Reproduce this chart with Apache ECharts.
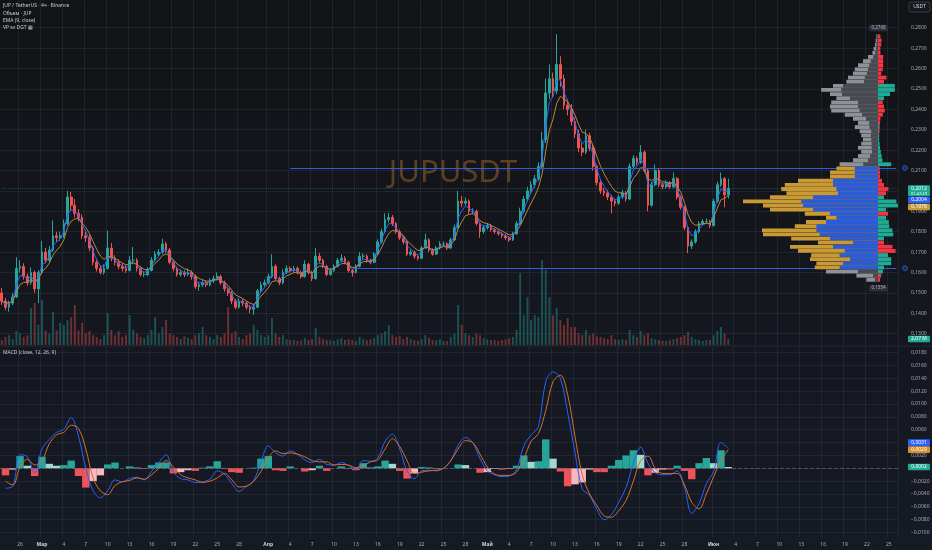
<!DOCTYPE html>
<html><head><meta charset="utf-8">
<script src="https://cdn.jsdelivr.net/npm/echarts@6/dist/echarts.min.js"></script>
<style>html,body{margin:0;padding:0;background:#131417;}#c{width:932px;height:550px;}</style>
</head><body><div id="c"></div>
<script>
// ---------- tick labels (x: days from Feb 26) ----------
const tickDays = [0,3,6,9,12,15,18,21,24,27,30,34,37,40,43,46,49,52,55,58,61,64,67,70,73,76,79,82,85,88,91,95,98,101,104,107,110,113,116,119];
const tickTexts = ['26','Мар','4','7','10','13','16','19','22','25','28','Апр','4','7','10','13','16','19','22','25','28','Май','4','7','10','13','16','19','22','25','28','Июн','4','7','10','13','16','19','22','25'];
const monthTexts = ['Мар','Апр','Май','Июн'];
const priceTicks = [0.13,0.14,0.15,0.16,0.17,0.18,0.19,0.20,0.21,0.22,0.23,0.24,0.25,0.26,0.27,0.28];
const macdTicks = [-0.010,-0.008,-0.006,-0.004,-0.002,0,0.002,0.004,0.006,0.008,0.010,0.012,0.014,0.016,0.018];

// ---------- candles, 12h each: [open, close, low, high] ----------
const candles = [
[0.1500,0.1460,0.1440,0.1525],[0.1460,0.1430,0.1415,0.1475],[0.1430,0.1450,0.1408,0.1462],[0.1450,0.1480,0.1440,0.1500],[0.1480,0.1620,0.1475,0.1675],
[0.1620,0.1630,0.1600,0.1660],[0.1630,0.1580,0.1565,0.1645],[0.1580,0.1550,0.1535,0.1595],[0.1550,0.1600,0.1540,0.1625],[0.1600,0.1520,0.1500,0.1610],
[0.1520,0.1600,0.1450,0.1610],[0.1600,0.1700,0.1590,0.1755],[0.1700,0.1660,0.1645,0.1720],[0.1660,0.1710,0.1650,0.1730],[0.1710,0.1780,0.1700,0.1855],
[0.1780,0.1770,0.1750,0.1800],[0.1770,0.1780,0.1755,0.1800],[0.1780,0.1840,0.1770,0.1860],[0.1840,0.1970,0.1830,0.2000],[0.1970,0.1930,0.1900,0.1995],
[0.1930,0.1890,0.1870,0.1960],[0.1890,0.1870,0.1850,0.1910],[0.1870,0.1780,0.1765,0.1885],[0.1780,0.1770,0.1750,0.1800],[0.1770,0.1720,0.1705,0.1785],
[0.1720,0.1650,0.1635,0.1730],[0.1650,0.1620,0.1605,0.1665],[0.1620,0.1600,0.1590,0.1635],[0.1600,0.1620,0.1590,0.1640],[0.1620,0.1720,0.1615,0.1805],
[0.1720,0.1670,0.1655,0.1745],[0.1670,0.1650,0.1635,0.1685],[0.1650,0.1630,0.1615,0.1665],[0.1630,0.1620,0.1605,0.1645],[0.1620,0.1610,0.1598,0.1635],
[0.1610,0.1660,0.1605,0.1680],[0.1660,0.1660,0.1640,0.1725],[0.1660,0.1620,0.1605,0.1670],[0.1620,0.1590,0.1580,0.1630],[0.1590,0.1590,0.1578,0.1605],
[0.1590,0.1610,0.1582,0.1625],[0.1610,0.1660,0.1605,0.1675],[0.1660,0.1690,0.1650,0.1705],[0.1690,0.1700,0.1680,0.1715],[0.1700,0.1740,0.1690,0.1765],
[0.1740,0.1710,0.1695,0.1750],[0.1710,0.1650,0.1640,0.1720],[0.1650,0.1620,0.1605,0.1660],[0.1620,0.1590,0.1580,0.1630],[0.1590,0.1600,0.1580,0.1615],
[0.1600,0.1590,0.1578,0.1610],[0.1590,0.1600,0.1582,0.1620],[0.1600,0.1580,0.1565,0.1610],[0.1580,0.1530,0.1520,0.1590],[0.1530,0.1540,0.1510,0.1555],
[0.1540,0.1550,0.1530,0.1565],[0.1550,0.1540,0.1528,0.1560],[0.1540,0.1560,0.1532,0.1572],[0.1560,0.1570,0.1548,0.1585],[0.1570,0.1580,0.1560,0.1600],
[0.1580,0.1550,0.1540,0.1590],[0.1550,0.1520,0.1505,0.1560],[0.1520,0.1500,0.1485,0.1530],[0.1500,0.1460,0.1445,0.1510],[0.1460,0.1430,0.1420,0.1470],
[0.1430,0.1460,0.1422,0.1475],[0.1460,0.1450,0.1435,0.1470],[0.1450,0.1430,0.1418,0.1460],[0.1430,0.1420,0.1400,0.1440],[0.1420,0.1430,0.1392,0.1445],
[0.1430,0.1510,0.1425,0.1520],[0.1510,0.1540,0.1500,0.1555],[0.1540,0.1550,0.1530,0.1565],[0.1550,0.1580,0.1542,0.1595],[0.1580,0.1630,0.1572,0.1690],
[0.1630,0.1570,0.1560,0.1640],[0.1570,0.1550,0.1538,0.1580],[0.1550,0.1600,0.1542,0.1615],[0.1600,0.1620,0.1592,0.1635],[0.1620,0.1610,0.1598,0.1630],
[0.1610,0.1620,0.1600,0.1632],[0.1620,0.1600,0.1590,0.1630],[0.1600,0.1580,0.1570,0.1610],[0.1580,0.1640,0.1575,0.1660],[0.1640,0.1600,0.1590,0.1648],
[0.1600,0.1570,0.1558,0.1608],[0.1570,0.1680,0.1565,0.1720],[0.1680,0.1660,0.1645,0.1695],[0.1660,0.1630,0.1620,0.1668],[0.1630,0.1590,0.1582,0.1638],
[0.1590,0.1610,0.1585,0.1620],[0.1610,0.1630,0.1602,0.1640],[0.1630,0.1660,0.1625,0.1672],[0.1660,0.1670,0.1650,0.1690],[0.1670,0.1650,0.1640,0.1680],
[0.1650,0.1610,0.1600,0.1658],[0.1610,0.1600,0.1580,0.1618],[0.1600,0.1630,0.1595,0.1640],[0.1630,0.1680,0.1625,0.1700],[0.1680,0.1680,0.1665,0.1695],
[0.1680,0.1660,0.1648,0.1690],[0.1660,0.1650,0.1640,0.1668],[0.1650,0.1690,0.1645,0.1700],[0.1690,0.1750,0.1685,0.1762],[0.1750,0.1800,0.1742,0.1815],
[0.1800,0.1860,0.1792,0.1890],[0.1860,0.1870,0.1845,0.1892],[0.1870,0.1840,0.1828,0.1882],[0.1840,0.1800,0.1790,0.1848],[0.1800,0.1770,0.1760,0.1810],
[0.1770,0.1750,0.1738,0.1780],[0.1750,0.1690,0.1680,0.1758],[0.1690,0.1700,0.1682,0.1712],[0.1700,0.1680,0.1668,0.1708],[0.1680,0.1670,0.1660,0.1688],
[0.1670,0.1720,0.1665,0.1730],[0.1720,0.1760,0.1715,0.1790],[0.1760,0.1710,0.1700,0.1768],[0.1710,0.1690,0.1682,0.1718],[0.1690,0.1720,0.1685,0.1730],
[0.1720,0.1740,0.1712,0.1752],[0.1740,0.1740,0.1728,0.1752],[0.1740,0.1720,0.1710,0.1748],[0.1720,0.1760,0.1715,0.1770],[0.1760,0.1820,0.1755,0.1835],
[0.1820,0.1950,0.1815,0.2000],[0.1950,0.1940,0.1920,0.1975],[0.1940,0.1950,0.1928,0.1968],[0.1950,0.1900,0.1888,0.1958],[0.1900,0.1900,0.1885,0.1915],
[0.1900,0.1840,0.1830,0.1908],[0.1840,0.1800,0.1770,0.1848],[0.1800,0.1820,0.1790,0.1832],[0.1820,0.1830,0.1810,0.1842],[0.1830,0.1810,0.1800,0.1838],
[0.1810,0.1800,0.1790,0.1818],[0.1800,0.1790,0.1780,0.1808],[0.1790,0.1780,0.1770,0.1798],[0.1780,0.1770,0.1760,0.1790],[0.1770,0.1760,0.1750,0.1778],
[0.1760,0.1790,0.1755,0.1800],[0.1790,0.1840,0.1785,0.1852],[0.1840,0.1900,0.1832,0.1918],[0.1900,0.1960,0.1890,0.1975],[0.1960,0.2000,0.1948,0.2020],
[0.2000,0.2030,0.1985,0.2048],[0.2030,0.2060,0.2015,0.2078],[0.2060,0.2120,0.2048,0.2140],[0.2120,0.2250,0.2110,0.2290],[0.2250,0.2480,0.2235,0.2550],
[0.2480,0.2550,0.2450,0.2620],[0.2550,0.2490,0.2460,0.2580],[0.2490,0.2620,0.2475,0.2768],[0.2620,0.2550,0.2510,0.2660],[0.2550,0.2420,0.2400,0.2570],
[0.2420,0.2400,0.2370,0.2450],[0.2400,0.2340,0.2320,0.2425],[0.2340,0.2280,0.2260,0.2360],[0.2280,0.2210,0.2190,0.2300],[0.2210,0.2190,0.2170,0.2235],
[0.2190,0.2270,0.2180,0.2300],[0.2270,0.2210,0.2195,0.2285],[0.2210,0.2120,0.2100,0.2225],[0.2120,0.2040,0.2025,0.2130],[0.2040,0.2000,0.1985,0.2055],
[0.2000,0.1990,0.1975,0.2015],[0.1990,0.1970,0.1955,0.2005],[0.1970,0.1950,0.1890,0.1980],[0.1950,0.1940,0.1925,0.1962],[0.1940,0.1970,0.1932,0.1982],
[0.1970,0.1990,0.1960,0.2005],[0.1990,0.1960,0.1948,0.1998],[0.1960,0.2120,0.1955,0.2135],[0.2120,0.2160,0.2105,0.2175],[0.2160,0.2140,0.2125,0.2170],
[0.2140,0.2190,0.2132,0.2225],[0.2190,0.2100,0.2090,0.2198],[0.2100,0.1930,0.1900,0.2108],[0.1930,0.2030,0.1922,0.2045],[0.2030,0.2100,0.2022,0.2130],
[0.2100,0.2030,0.2018,0.2108],[0.2030,0.2020,0.2008,0.2042],[0.2020,0.2040,0.2012,0.2052],[0.2040,0.2020,0.2010,0.2048],[0.2020,0.2060,0.2012,0.2090],
[0.2060,0.1970,0.1958,0.2068],[0.1970,0.1920,0.1908,0.1978],[0.1920,0.1820,0.1808,0.1928],[0.1820,0.1730,0.1695,0.1828],[0.1730,0.1750,0.1715,0.1762],
[0.1750,0.1800,0.1742,0.1812],[0.1800,0.1840,0.1792,0.1852],[0.1840,0.1850,0.1830,0.1862],[0.1850,0.1850,0.1838,0.1865],[0.1850,0.1830,0.1818,0.1858],
[0.1830,0.1950,0.1825,0.1962],[0.1950,0.2030,0.1942,0.2045],[0.2030,0.2060,0.2020,0.2090],[0.2060,0.1980,0.1920,0.2068],[0.1980,0.2012,0.1962,0.2060]
];

// ---------- volume per candle (millions JUP) ----------
const volumes = [
1.7,2.8,3.4,2,4.8,4,2.8,3.4,12.8,14.5,
7,15.5,5,4,11.4,5,7.6,7,8.6,9.6,
13.8,5,7.6,4,4.8,3.4,2.8,2,3.4,11,
5.2,3.4,4.8,2.8,3.4,10.3,5.2,4,2.8,2.4,
3.4,5.2,9.6,4,6.2,8.6,4,3.4,2.8,2,
3,2.4,2,3.4,4,6.2,3.4,2.8,2,3.4,
2.8,4,13,4,4.8,2.8,2,3.4,4,7,
5.2,3.4,2.8,3.4,9.3,4,2.8,3.4,2,1.7,
1.7,1.4,1.7,2.4,1.7,2,5.9,2.8,2,1.7,
1.7,1.4,2,2.4,1.7,2,1.7,1.4,2.8,2,
1.7,2,2.4,3.4,4,4.8,6.9,3.4,2.8,3,
2,2.8,2,1.7,1.4,2,3.4,2.4,1.7,1.7,
2,1.4,1.4,2.8,4,13.8,7,4,3.4,2.8,
4,3.4,2.4,2,1.7,1.7,1.4,1.7,2,2.4,
2.8,5.2,24.8,10.3,16.5,8.6,10.3,9.7,29.3,25.9,
16.5,10.3,12.8,8.6,6.9,9.3,6.2,6.2,4,3.4,
5.2,3.4,4,3,2.8,2.4,2,3.4,2,1.7,
2,1.7,5.2,3.4,2.8,4.8,3.4,4,2.4,2,
1.7,1.4,1.4,1.7,2,2.4,2.8,3.4,4.5,2.8,
2,1.7,1.4,1.7,1.7,3.4,4.8,6.2,4,2.07
];

// ---------- MACD (12,26,9), one reading per day ----------
const macdDaily = [
-0.0031,-0.0028,0.0021,0.0018,-0.0007,0.0030,0.0045,0.0056,0.0061,0.0079,
0.0050,0.0000,-0.0035,-0.0046,-0.0035,-0.0018,-0.0021,-0.0016,-0.0014,-0.0018,
-0.0005,0.0009,0.0021,-0.0006,-0.0016,-0.0018,-0.0022,-0.0021,-0.0017,-0.0004,
-0.0009,-0.0024,-0.0036,-0.0028,-0.0019,0.0010,0.0035,0.0024,0.0019,0.0027,
0.0022,0.0013,0.0009,0.0014,0.0006,0.0005,0.0009,0.0004,-0.0002,0.0012,
0.0011,0.0016,0.0042,0.0053,0.0030,-0.0004,-0.0016,-0.0004,-0.0003,-0.0004,
0.0000,0.0012,0.0036,0.0048,0.0040,0.0015,-0.0004,-0.0010,-0.0013,-0.0012,
-0.0002,0.0035,0.0052,0.0065,0.0135,0.0150,0.0140,0.0087,0.0025,-0.0032,
-0.0042,-0.0064,-0.0080,-0.0072,-0.0053,-0.0030,0.0008,0.0033,0.0008,-0.0007,
-0.0010,-0.0010,-0.0004,-0.0030,-0.0070,-0.0055,-0.0024,-0.0005,0.0040,0.0031
];
const signalDaily = [
-0.0020,-0.0026,0.0002,0.0014,0.0005,0.0012,0.0038,0.0052,0.0056,0.0067,
0.0062,0.0030,-0.0015,-0.0035,-0.0041,-0.0027,-0.0021,-0.0019,-0.0015,-0.0017,
-0.0010,0.0000,0.0012,0.0002,-0.0010,-0.0015,-0.0018,-0.0022,-0.0020,-0.0015,
-0.0008,-0.0018,-0.0029,-0.0028,-0.0020,-0.0005,0.0016,0.0027,0.0023,0.0024,
0.0022,0.0018,0.0012,0.0010,0.0010,0.0005,0.0006,0.0005,0.0001,0.0004,
0.0010,0.0013,0.0030,0.0046,0.0034,0.0012,-0.0008,-0.0006,-0.0004,-0.0003,
0.0000,0.0012,0.0030,0.0043,0.0040,0.0022,0.0002,-0.0009,-0.0011,-0.0011,
-0.0006,0.0015,0.0042,0.0054,0.0090,0.0135,0.0145,0.0115,0.0050,-0.0010,
-0.0040,-0.0058,-0.0074,-0.0076,-0.0066,-0.0050,-0.0020,0.0012,0.0019,0.0000,
-0.0008,-0.0008,-0.0008,-0.0026,-0.0053,-0.0063,-0.0040,-0.0013,0.0012,0.0029
];

// ---------- volume profile (60 rows from top 0.2768 to bottom 0.1554) ----------
const vpTop = 0.2768, vpBottom = 0.1554;
const vpOuter = [0.4,0.6,0.75,1.1,1.4,2.5,3.75,5,5.8,6.25,7.5,7.9,11.25,14.2,12,10.4,11.7,12,11.7,8.3,6.25,5,5.8,4.6,4.2,3.75,4.2,5,4.2,5,6.25,9.6,10.4,12,12,20,23.3,24.2,22.9,27,33.75,28.75,27,18.3,13,18,20.8,29,28.75,21.7,15,22,20,16.7,17,15.4,15.8,13,5.4,2.9];
const vpInner = [0.25,0.3,0.4,0.5,0.7,1.2,1.8,2.2,2.5,2.8,3.3,3.5,8.75,9.2,9,7,5,5,4.6,4,3,2.2,2.1,1.7,1.8,1.7,1.6,1.6,1.5,2,2.5,3.7,5.8,5.8,5.8,11.25,11.25,10.4,10,16.25,19.2,18.75,16.25,12,10.4,13,15.4,15.4,14.6,12,6.25,11.25,8.3,9.6,7,8.75,9.6,5,1.25,0.8];
const vpDelta = [-0.6,-0.9,-0.8,-0.6,-0.6,-1.3,-1.3,-1.3,-1.2,-0.8,-2.1,-1.5,4.2,4.2,3,1.5,-1.2,-1.5,-1.7,-1.2,-0.6,-0.5,0.4,-0.4,0.3,0.3,0.4,0.5,0.7,0.9,1.1,3.3,-0.4,-0.5,-0.5,-1,-1.5,-2.6,-2,1.5,4.6,5,2,-2.5,2,2.7,2.8,3.6,3.8,1.5,-1.5,-3.6,-4.4,2.5,3.3,3.3,1.5,1.2,-0.8,-0.5];
const vaHigh = 0.2112, vaLow = 0.1621;
const vaHighStartSlot = 79, vaLowStartSlot = 97;

// ---------- build ----------
const N_SLOTS = 246;
const cats = new Array(N_SLOTS).fill('');
tickDays.forEach((d, j) => { cats[2 * d + 5] = tickTexts[j]; });
const lastSlot = N_SLOTS - 1;

function ema(arr, n) {
  const a = 2 / (n + 1); const out = []; let e = arr[0];
  arr.forEach((v, i) => { e = i === 0 ? v : a * v + (1 - a) * e; out.push(+e.toFixed(5)); });
  return out;
}
const closes = candles.map(c => c[1]);
const emaFast = ema(closes, 3);
const emaSlow = ema(closes, 6);
const lastClose = closes[closes.length - 1];

const volData = volumes.map((v, i) => ({
  value: v,
  itemStyle: { color: candles[i][1] >= candles[i][0] ? 'rgba(38,166,154,0.42)' : 'rgba(239,83,80,0.42)' }
}));
const macdData = macdDaily.map((v, k) => [2 * k + 1, v]);
const sigData = signalDaily.map((v, k) => [2 * k + 1, v]);
let prevH = 0;
const histData = macdDaily.map((m, k) => {
  const h = +(m - signalDaily[k]).toFixed(5);
  let col;
  if (h >= 0) col = h >= prevH ? '#26a69a' : '#a3d6cf';
  else col = h > prevH ? '#f7b9bf' : '#f0525a';
  prevH = h;
  return { value: [2 * k + 1, h], itemStyle: { color: col } };
});
const histLast = +(macdDaily[99] - signalDaily[99]).toFixed(5);

const vpStep = (vpTop - vpBottom) / vpOuter.length;
const vpData = vpOuter.map((v, k) => [k, v, vpInner[k], vpDelta[k]]);

const fmt4 = v => (v < 0 ? '−' : '') + Math.abs(v).toFixed(4).replace('.', ',');
const gridColor = 'rgba(58,62,74,0.35)';
const axisText = '#a6a9b2';
const priceMin = 0.12446, priceMax = 0.29358;
const macdMin = -0.010693, macdMax = 0.018879;

const chart = echarts.init(document.getElementById('c'), null, { renderer: 'canvas', width: 932, height: 550 });

function renderVP(params, api) {
  const k = api.value(0), outer = api.value(1), inner = api.value(2), delta = api.value(3);
  const top = vpTop - k * vpStep, bot = top - vpStep, mid = (top + bot) / 2;
  const inVA = mid <= vaHigh && mid >= vaLow;
  const a = api.coord([0, top]), b = api.coord([0, bot]);
  const y0 = a[1] + 0.15, h = Math.max(0.6, b[1] - a[1] - 0.3);
  const xo = api.coord([-outer, top])[0], xi = api.coord([-inner, top])[0], xd = api.coord([Math.abs(delta), top])[0];
  return { type: 'group', children: [
    { type: 'rect', shape: { x: xo, y: y0, width: a[0] - xo, height: h }, style: { fill: inVA ? '#c99a33' : '#8f9198' } },
    { type: 'rect', shape: { x: xi, y: y0, width: a[0] - xi, height: h }, style: { fill: inVA ? '#2a5bd8' : '#484a51' } },
    { type: 'rect', shape: { x: a[0], y: y0, width: xd - a[0], height: h }, style: { fill: delta >= 0 ? '#22ab94' : '#f23645' } }
  ] };
}

const catAxisBase = {
  type: 'category', data: cats, boundaryGap: true,
  axisLine: { show: false }, axisTick: { show: false },
  splitLine: { show: true, interval: (i, v) => v !== '', lineStyle: { color: gridColor, width: 1 } }
};

chart.setOption({
  animation: false,
  backgroundColor: new echarts.graphic.LinearGradient(0, 0, 0, 1, [
    { offset: 0, color: '#121316' }, { offset: 1, color: '#161a25' }
  ]),
  textStyle: { fontFamily: 'Noto Sans, sans-serif' },
  grid: [
    { left: 0, right: 34, top: 0, height: 345, outerBoundsMode: 'none' },
    { left: 0, right: 34, top: 245, height: 100, outerBoundsMode: 'none' },
    { left: 0, right: 34, top: 347, height: 190, outerBoundsMode: 'none' },
    { left: 730, right: 34, top: 0, height: 345, outerBoundsMode: 'none' }
  ],
  xAxis: [
    Object.assign({}, catAxisBase, { gridIndex: 0, axisLabel: { show: false } }),
    { type: 'category', gridIndex: 1, data: cats, show: false },
    Object.assign({}, catAxisBase, {
      gridIndex: 2,
      axisLabel: {
        show: true, interval: 0, margin: 5, fontSize: 5, color: axisText,
        formatter: v => monthTexts.includes(v) ? '{m|' + v + '}' : v,
        rich: { m: { fontSize: 5, color: '#d1d4dc', fontWeight: 'bold' } }
      }
    }),
    { type: 'value', gridIndex: 3, min: -37, max: 5, show: false }
  ],
  yAxis: [
    { type: 'value', gridIndex: 0, position: 'right', min: priceMin, max: priceMax,
      axisLine: { show: false }, axisTick: { show: false, customValues: priceTicks },
      axisLabel: { customValues: priceTicks, formatter: fmt4, fontSize: 5, color: axisText, margin: 13, align: 'left' },
      splitLine: { show: true, lineStyle: { color: gridColor } } },
    { type: 'value', gridIndex: 1, min: 0, max: 34.5, show: false },
    { type: 'value', gridIndex: 2, position: 'right', min: macdMin, max: macdMax,
      axisLine: { show: false }, axisTick: { show: false, customValues: macdTicks },
      axisLabel: { customValues: macdTicks, formatter: fmt4, fontSize: 5, color: axisText, margin: 13, align: 'left' },
      splitLine: { show: true, lineStyle: { color: gridColor } } },
    { type: 'value', gridIndex: 3, min: priceMin, max: priceMax, show: false }
  ],
  series: [
    { type: 'bar', name: 'Объем', xAxisIndex: 1, yAxisIndex: 1, data: volData, barWidth: 1.9, z: 1, silent: true },
    { type: 'candlestick', name: 'JUPUSDT', xAxisIndex: 0, yAxisIndex: 0, data: candles, barWidth: 2.2, z: 3,
      itemStyle: { color: '#26a69a', color0: '#ef5350', borderColor: '#26a69a', borderColor0: '#ef5350', borderWidth: 1 },
      markLine: { symbol: ['none', 'none'], silent: true, label: { show: false }, animation: false,
        data: [
          [{ coord: [vaHighStartSlot, vaHigh], lineStyle: { color: '#2f5fe0', width: 1, type: 'solid' } }, { coord: [lastSlot, vaHigh] }],
          [{ coord: [vaLowStartSlot, vaLow], lineStyle: { color: '#2f5fe0', width: 1, type: 'solid' } }, { coord: [lastSlot, vaLow] }],
          [{ coord: [0, lastClose], lineStyle: { color: 'rgba(38,166,154,0.4)', width: 1, type: 'dotted' } }, { coord: [lastSlot, lastClose] }]
        ] } },
    { type: 'line', name: 'EMA (9, close)', xAxisIndex: 0, yAxisIndex: 0, data: emaFast, symbol: 'none', z: 4,
      lineStyle: { color: '#2962ff', width: 1 } },
    { type: 'line', name: 'EMA slow', xAxisIndex: 0, yAxisIndex: 0, data: emaSlow, symbol: 'none', z: 4,
      lineStyle: { color: '#b8873f', width: 1 } },
    { type: 'custom', name: 'VP', xAxisIndex: 3, yAxisIndex: 3, data: vpData, renderItem: renderVP, z: 6, silent: true },
    { type: 'bar', name: 'Histogram', xAxisIndex: 2, yAxisIndex: 2, data: histData, barWidth: 7.4, z: 2,
      markLine: { symbol: ['none', 'none'], silent: true, label: { show: false },
        data: [{ yAxis: 0 }], lineStyle: { color: 'rgba(120,123,134,0.5)', type: 'dashed', width: 1 } } },
    { type: 'line', name: 'MACD', xAxisIndex: 2, yAxisIndex: 2, data: macdData, symbol: 'none', smooth: 0.35, z: 3,
      lineStyle: { color: '#2962ff', width: 1 } },
    { type: 'line', name: 'Signal', xAxisIndex: 2, yAxisIndex: 2, data: sigData, symbol: 'none', smooth: 0.35, z: 3,
      lineStyle: { color: '#d8702c', width: 1 } }
  ]
});

// ---------- overlay texts and axis value labels ----------
const py = v => chart.convertToPixel({ xAxisIndex: 0, yAxisIndex: 0 }, [0, v])[1];
const my = v => chart.convertToPixel({ xAxisIndex: 2, yAxisIndex: 2 }, [0, v])[1];
const vy = v => chart.convertToPixel({ xAxisIndex: 1, yAxisIndex: 1 }, [0, v])[1];
const F = (s) => s + 'px "Noto Sans", sans-serif';
const BX = 908, BW = 22, BH = 6.6;
function box(top, fill, text, color, h) {
  return [
    { type: 'rect', z: 20, shape: { x: BX, y: top, width: BW, height: h || BH, r: 1 }, style: { fill: fill } },
    { type: 'text', z: 21, x: BX + BW / 2, y: top + BH / 2, style: { text: text, fill: color || '#ffffff', font: F(5), textAlign: 'center', textVerticalAlign: 'middle' } }
  ];
}
const g = [];
g.push({ type: 'text', z: 0, x: 453, y: 173, style: { text: 'JUPUSDT', fill: 'rgba(178,116,44,0.45)', font: F(31), textAlign: 'center', textVerticalAlign: 'middle' } });
['JUP / TetherUS · 4ч · Binance', 'Объем · JUP', 'EMA (9, close)', 'VP sv DGT ▦'].forEach((t, i) => {
  g.push({ type: 'text', z: 20, x: 3, y: 6 + i * 7.1, style: { text: t, fill: '#c9ccd4', font: F(5), textVerticalAlign: 'middle' } });
});
g.push({ type: 'text', z: 20, x: 3, y: 353, style: { text: 'MACD (close, 12, 26, 9)', fill: '#c9ccd4', font: F(5), textVerticalAlign: 'middle' } });
g.push({ type: 'line', z: 10, shape: { x1: 0, y1: 346, x2: 932, y2: 346 }, style: { stroke: '#262a35', lineWidth: 1 } });
g.push({ type: 'rect', z: 20, shape: { x: 909, y: 2, width: 21, height: 10, r: 2 }, style: { fill: '#16181d', stroke: '#434651', lineWidth: 0.8 } });
g.push({ type: 'text', z: 21, x: 919.5, y: 7, style: { text: 'USDT', fill: '#d1d4dc', font: F(5), textAlign: 'center', textVerticalAlign: 'middle' } });
const gTop = py(lastClose) - BH / 2;
g.push(...box(gTop, '#22ab94', fmt4(lastClose), '#ffffff', 11.2));
g.push({ type: 'text', z: 21, x: BX + BW / 2, y: gTop + 8.6, style: { text: '01:47:29', fill: '#e8f5f3', font: F(4), textAlign: 'center', textVerticalAlign: 'middle' } });
const fastVal = emaFast[emaFast.length - 1], slowVal = emaSlow[emaSlow.length - 1];
const bTop = Math.max(py(fastVal) - BH / 2, gTop + 11.6);
g.push(...box(bTop, '#2962ff', fmt4(fastVal)));
const oTop = Math.max(py(slowVal) - BH / 2, bTop + BH + 0.4);
g.push(...box(oTop, '#c99a33', fmt4(slowVal)));
g.push(...box(vy(volumes[volumes.length - 1]) - BH / 2, '#22ab94', volumes[volumes.length - 1].toFixed(2).replace('.', ',') + ' M'));
[vaHigh, vaLow].forEach(v => g.push({ type: 'circle', z: 20, shape: { cx: 905, cy: py(v), r: 2.4 }, style: { fill: '#1e2a55', stroke: '#2f5fe0', lineWidth: 0.8 } }));
g.push({ type: 'rect', z: 20, shape: { x: 869, y: py(vpTop) - 9.5, width: 19, height: 6.6, r: 1 }, style: { fill: '#2a2e39' } });
g.push({ type: 'text', z: 21, x: 878.5, y: py(vpTop) - 6.2, style: { text: fmt4(vpTop), fill: '#b2b5be', font: F(4.5), textAlign: 'center', textVerticalAlign: 'middle' } });
g.push({ type: 'rect', z: 20, shape: { x: 869, y: py(vpBottom) + 3, width: 19, height: 6.6, r: 1 }, style: { fill: '#2a2e39' } });
g.push({ type: 'text', z: 21, x: 878.5, y: py(vpBottom) + 6.3, style: { text: fmt4(vpBottom), fill: '#b2b5be', font: F(4.5), textAlign: 'center', textVerticalAlign: 'middle' } });
const mLast = macdDaily[macdDaily.length - 1], sLast = signalDaily[signalDaily.length - 1];
const sTop = my(sLast) - BH / 2;
const mTop = Math.min(my(mLast) - BH / 2, sTop - BH - 0.4);
g.push(...box(mTop, '#2962ff', fmt4(mLast)));
g.push(...box(sTop, '#d8902c', fmt4(sLast)));
g.push(...box(my(histLast) - BH / 2, '#22ab94', fmt4(histLast)));

chart.setOption({ graphic: { elements: g } });
</script>
</body></html>
